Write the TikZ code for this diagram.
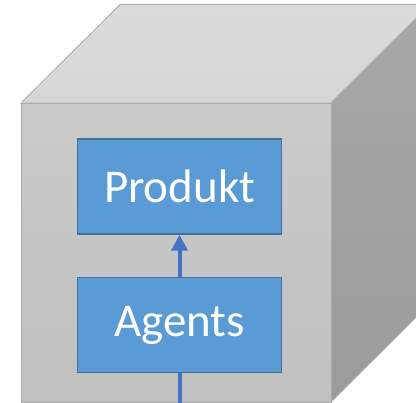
\documentclass[tikz,border=0pt]{standalone}
\usepackage{fontspec}
\setmainfont{Carlito}
\usetikzlibrary{positioning}
\usetikzlibrary{arrows.meta}

\definecolor{boxfill}{HTML}{5B9BD5}
\definecolor{boxline}{HTML}{41719C}
\definecolor{arrowblue}{HTML}{4472C4}
\definecolor{edgegrey}{HTML}{ABABAB}

\begin{document}
\begin{tikzpicture}
		[x=1pt, y=1pt, face/.style = {draw=edgegrey, line width=0.8pt},
		main/.style = {draw=boxline, line width=1.5pt, fill=boxfill, text=white, inner sep=0pt,
			minimum width=204pt, minimum height=95pt, font=\fontsize{47}{56}\selectfont},
		link/.style = {draw=arrowblue, line width=4pt}]
	\useasboundingbox (0,0) rectangle (416,403);
	\clip (0,0) rectangle (416,403);
	% cube: top, right and front faces
	\draw[face, top color={rgb,255:red,219;green,219;blue,219}, bottom color={rgb,255:red,214;green,214;blue,214}]
		(21,300) -- (120,398.5) -- (430,398.5) -- (331,300) -- cycle;
	\draw[face, top color={rgb,255:red,168;green,168;blue,168}, bottom color={rgb,255:red,155;green,155;blue,155}]
		(331,300) -- (430,398.5) -- (430,99.5) -- (331,1) -- cycle;
	\draw[face, top color={rgb,255:red,202;green,202;blue,202}, bottom color={rgb,255:red,192;green,192;blue,192}]
		(21,1) rectangle (331,300);
	% blocks
	\node[main] (1) at (179.5,216.5) {Produkt};
	\node[main] (2) [below = 42pt of 1] {Agents};
	\coordinate (3) at (179.5,-10);
	\draw[link] (3) -- (2);
	\draw[link, -{Triangle[length=16pt, width=16pt]}] (2) -- (1);
\end{tikzpicture}
\end{document}
